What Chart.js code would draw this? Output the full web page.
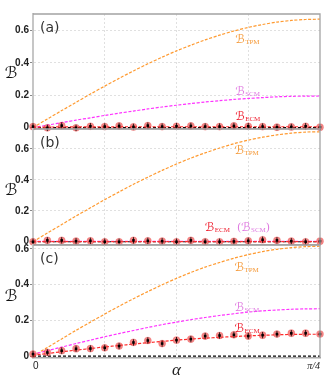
<!DOCTYPE html>
<html><head><meta charset="utf-8">
<script src="https://cdn.jsdelivr.net/npm/chart.js@4"></script>
<style>
html,body{margin:0;padding:0;background:#fff;width:331px;height:378px;overflow:hidden}
#wrap{position:relative;width:331px;height:378px}
canvas{position:absolute;left:0;top:0}
</style></head>
<body>
<div id="wrap">
<canvas id="ca" width="331" height="378"></canvas>
<canvas id="cb" width="331" height="378"></canvas>
<canvas id="cc" width="331" height="378"></canvas>
</div>
<script>
// ---- data ----
const alpha = [0,0.0393,0.0785,0.1178,0.1571,0.1963,0.2356,0.2749,0.3142,0.3534,0.3927,0.4320,0.4712,0.5105,0.5498,0.5890,0.6283,0.6676,0.7069,0.7461,0.7854];
const xTickValues = [0,0.1963,0.3927,0.5890,0.7854];
const xTickLabels = ['0','','α','','π/4'];
const yTickValues = [0,0.2,0.4,0.6];
const yTickLabels = ['0','0.2','0.4','0.6'];
const zeroLine = [0,0,0,0,0,0,0,0,0,0,0,0,0,0,0,0,0,0,0,0,0];

// panel (a)
const tpmA = [0,0.053,0.105,0.156,0.207,0.256,0.304,0.350,0.394,0.435,0.474,0.509,0.542,0.571,0.597,0.619,0.637,0.652,0.662,0.668,0.670];
const scmA = [0,0.015,0.030,0.046,0.060,0.075,0.089,0.102,0.115,0.127,0.138,0.148,0.158,0.166,0.174,0.180,0.185,0.190,0.193,0.194,0.195];
const ecmA = [0.003,0.003,0.004,0.004,0.004,0.004,0.005,0.005,0.005,0.005,0.005,0.005,0.005,0.005,0.005,0.005,0.005,0.005,0.005,0.005,0.005];
const ecmPtsA = [0.006,-0.002,0.012,-0.002,0.008,0.006,0.010,0.004,0.012,0.006,0.008,0.010,0.006,0.006,0.010,0.008,0.006,0.002,0.004,0.008,0.002];
// panel (b)
const tpmB = [0,0.056,0.111,0.166,0.219,0.272,0.322,0.371,0.417,0.461,0.502,0.540,0.574,0.605,0.633,0.656,0.675,0.690,0.701,0.708,0.710];
const scmB = [0.002,0.002,0.002,0.002,0.002,0.002,0.002,0.002,0.002,0.002,0.002,0.002,0.002,0.002,0.002,0.002,0.002,0.002,0.002,0.002,0.002];
const ecmB = [0.001,0.001,0.001,0.001,0.001,0.001,0.001,0.001,0.001,0.001,0.001,0.001,0.001,0.001,0.001,0.001,0.001,0.001,0.001,0.001,0.001];
const ecmPtsB = [0,0.009,0.009,0.004,0.006,0,0,0.009,0.006,0.004,0,0.009,0,0,0.002,0.006,0.013,0.009,0.004,0,0.004];
// panel (c)
const tpmC = [0,0.048,0.096,0.144,0.190,0.235,0.279,0.321,0.361,0.399,0.435,0.468,0.498,0.524,0.548,0.568,0.585,0.598,0.607,0.613,0.615];
const scmC = [0.010,0.030,0.050,0.070,0.089,0.108,0.126,0.143,0.160,0.176,0.190,0.204,0.216,0.227,0.237,0.246,0.253,0.258,0.262,0.264,0.265];
const ecmC = [0.005,0.014,0.024,0.033,0.042,0.051,0.059,0.067,0.075,0.082,0.089,0.095,0.100,0.105,0.109,0.113,0.116,0.119,0.121,0.122,0.122];
const ecmPtsC = [0.011,0.020,0.030,0.041,0.042,0.046,0.056,0.076,0.087,0.070,0.089,0.095,0.112,0.115,0.119,0.112,0.117,0.123,0.128,0.128,0.123];

// ---- styles ----
const C_TPM = '#ff9a30', C_SCM = '#ff33ff', C_ECM = '#ff2b2b';
const L_TPM = '#f59a3a', L_SCM = '#df7ae0', L_ECM = '#ee1c2c';
const GRID = '#e0e0e0';

function pts(ys){ return ys.map((y,i)=>({x:alpha[i], y})); }

function lineDs(ys, color, order){
  return {type:'line', data:pts(ys), borderColor:color, borderWidth:1.2, borderDash:[3,1.6],
    pointRadius:0, tension:0.3, fill:false, order};
}

const annot = {
  id:'annot',
  afterDraw(chart){
    const o = chart.options.plugins.annot;
    const ctx = chart.ctx, a = chart.chartArea;
    const xs = chart.scales.x, ys = chart.scales.y;
    ctx.save();
    ctx.strokeStyle = '#a3a3a3'; ctx.lineWidth = 1.3;
    ctx.beginPath(); ctx.moveTo(a.left, a.top); ctx.lineTo(a.right, a.top); ctx.lineTo(a.right, a.bottom); ctx.stroke();
    ctx.fillStyle = '#333'; ctx.font = '14px "DejaVu Sans"'; ctx.textBaseline = 'middle'; ctx.textAlign = 'left';
    ctx.fillText(o.letter, a.left + 7, a.top + 14);
    ctx.fillStyle = '#111'; ctx.font = 'italic 16px "DejaVu Serif","DejaVu Sans",serif'; ctx.textAlign = 'center';
    ctx.fillText('ℬ', 11, ys.getPixelForValue(0.33));
    ctx.textAlign = 'left'; ctx.textBaseline = 'alphabetic';
    for (const lb of o.labels){
      let px = xs.getPixelForValue(lb.x), py = ys.getPixelForValue(lb.y);
      for (const part of lb.parts){
        ctx.fillStyle = part.color;
        if (part.t){
          ctx.font = '11px "DejaVu Serif"';
          ctx.fillText(part.t, px, py); px += ctx.measureText(part.t).width;
        } else {
          ctx.font = 'italic 12px "DejaVu Serif","DejaVu Sans",serif';
          ctx.fillText('ℬ', px, py); px += ctx.measureText('ℬ').width + 0.3;
          ctx.font = '7px "Liberation Serif"';
          ctx.fillText(part.sub, px, py + 1); px += ctx.measureText(part.sub).width;
        }
      }
    }
    ctx.restore();
  }
};

function panel(id, d, top, bottomPad, yMin, yMax, showX, letter, labels){
  new Chart(document.getElementById(id), {
    type:'line',
    data:{datasets:[
      {type:'line', data:pts(d.pts), pointStyle:'line', pointRotation:90, pointRadius:3.2,
        pointBorderColor:'#000', pointBorderWidth:0.8, showLine:false, order:0, clip:false},
      {type:'line', data:pts(d.pts), pointStyle:'rect', pointRadius:1.8, pointBackgroundColor:'#000',
        pointBorderWidth:0, showLine:false, order:1, clip:false},
      {type:'line', data:pts(d.pts), pointStyle:'circle', pointRadius:3.6, pointBackgroundColor:'rgba(236,60,60,0.62)',
        pointBorderColor:'rgba(236,60,60,0.3)', pointBorderWidth:0.5, showLine:false, order:2, clip:false},
      lineDs(d.ecm, C_ECM, 3),
      lineDs(d.scm, C_SCM, 4),
      lineDs(d.tpm, C_TPM, 5),
      {type:'line', data:pts(zeroLine), borderColor:'#000', borderWidth:1.2, borderDash:[3,2], pointRadius:0, order:6}
    ]},
    options:{
      responsive:false, animation:false, devicePixelRatio:1,
      layout:{padding:{left:0, right:11, top:top, bottom:bottomPad}},
      plugins:{legend:{display:false}, tooltip:{enabled:false}, annot:{letter, labels}},
      scales:{
        x:{type:'linear', min:0, max:0.7854,
          afterBuildTicks:s=>{ s.ticks = xTickValues.map(v=>({value:v})); },
          afterFit:s=>{ s.height = showX ? 20 : 0; },
          ticks:{display:showX, autoSkip:false, maxRotation:0, align:'inner', padding:2, color:'#222',
            callback:(v,i)=>xTickLabels[i],
            font:(c)=> c.index===2 ? {family:'"Liberation Serif"', style:'italic', size:17}
                     : c.index===4 ? {family:'"Liberation Serif"', style:'italic', size:10}
                     : {family:'"Liberation Sans"', size:10}},
          grid:{color:(c)=> (c.index===0||c.index===4)?'rgba(0,0,0,0)':GRID, lineWidth:1, drawTicks:false},
          border:{display:true, color:'#a8a8a8', width:1.5, dash:[2,2]}
        },
        y:{type:'linear', min:yMin, max:yMax,
          afterBuildTicks:s=>{ s.ticks = yTickValues.map(v=>({value:v})); },
          afterFit:s=>{ s.width = 33; },
          ticks:{autoSkip:false, padding:1, color:'#222', font:{family:'"Liberation Sans"', size:10, weight:'bold'},
            callback:(v,i)=>yTickLabels[i]},
          grid:{color:(c)=> (c.tick && c.tick.value===0)?'rgba(0,0,0,0)':GRID, lineWidth:1,
            drawTicks:true, tickLength:3, tickColor:'#888'},
          border:{display:true, color:'#c6c6c6', width:2, dash:[2,2]}
        }
      }
    },
    plugins:[annot]
  });
}

panel('ca', {tpm:tpmA, scm:scmA, ecm:ecmA, pts:ecmPtsA}, 14, 249, -0.009, 0.702, false, '(a)', [
  {x:0.554, y:0.522, parts:[{sub:'TPM', color:L_TPM}]},
  {x:0.554, y:0.199, parts:[{sub:'SCM', color:L_SCM}]},
  {x:0.554, y:0.048, parts:[{sub:'ECM', color:L_ECM}]}
]);
panel('cb', {tpm:tpmB, scm:scmB, ecm:ecmB, pts:ecmPtsB}, 129, 133, -0.021, 0.728, false, '(b)', [
  {x:0.552, y:0.566, parts:[{sub:'TPM', color:L_TPM}]},
  {x:0.471, y:0.071, parts:[{sub:'ECM', color:L_ECM},{t:'  (', color:L_SCM},{sub:'SCM', color:L_SCM},{t:')', color:L_SCM}]}
]);
panel('cc', {tpm:tpmC, scm:scmC, ecm:ecmC, pts:ecmPtsC}, 245, 0, -0.011, 0.622, true, '(c)', [
  {x:0.552, y:0.477, parts:[{sub:'TPM', color:L_TPM}]},
  {x:0.552, y:0.253, parts:[{sub:'SCM', color:L_SCM}]},
  {x:0.552, y:0.137, parts:[{sub:'ECM', color:L_ECM}]}
]);
</script>
</body></html>
